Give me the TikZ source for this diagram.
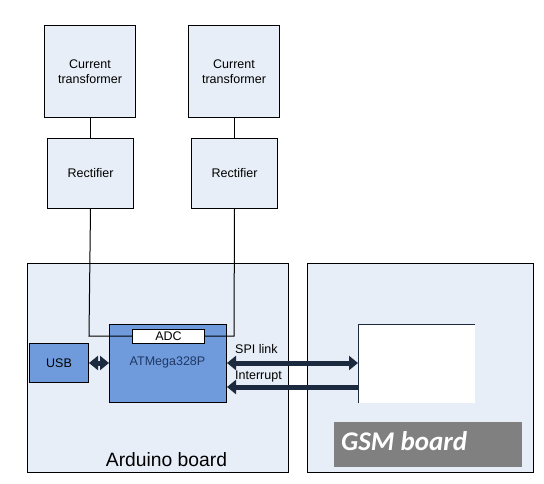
\documentclass[tikz,border=0pt]{standalone}
\usepackage{fontspec}
\setmainfont{Liberation Sans}
\newfontfamily\gsmfont{Carlito}
\usetikzlibrary{arrows.meta}
\definecolor{boxfill}{HTML}{E8EEF7}
\definecolor{chipfill}{HTML}{6F9BDC}
\definecolor{navy}{HTML}{1B2A3F}
\definecolor{chiptext}{HTML}{1F3864}
\definecolor{gsmgray}{HTML}{808080}
\tikzset{
  blk/.style={draw=black, line width=1pt, fill=boxfill, inner sep=0pt, font=\fontsize{12.5}{14.5}\selectfont, align=center},
  wire/.style={draw=black, line width=1pt},
  bus/.style={draw=navy, line width=5pt, -{Triangle[length=9pt,width=14pt]}},
  dbus/.style={draw=navy, line width=5pt, {Triangle[length=9pt,width=14pt]}-{Triangle[length=9pt,width=14pt]}},
  lbl/.style={font=\fontsize{12.5}{14}\selectfont, inner sep=0pt}
}
\begin{document}
\begin{tikzpicture}[x=1pt,y=-1pt]
\useasboundingbox (0,0) rectangle (544,483);
\fill[white] (0,0) rectangle (544,483);
% boards
\node[blk, minimum width=261pt, minimum height=209pt, anchor=north west] (ard) at (27,263) {};
\node[blk, minimum width=226pt, minimum height=209pt, anchor=north west] (gsm) at (307,263) {};
\node[lbl, font=\fontsize{19.3}{22}\selectfont] (ardlbl) at (166.5,460) {Arduino board};
% top chain
\node[blk, minimum width=91pt, minimum height=92pt, anchor=north west] (ct1) at (44,25) {Current\\transformer};
\node[blk, minimum width=91pt, minimum height=92pt, anchor=north west] (ct2) at (188,25) {Current\\transformer};
\node[blk, minimum width=86pt, minimum height=70pt, anchor=north west] (r1) at (47,138) {Rectifier};
\node[blk, minimum width=86pt, minimum height=70pt, anchor=north west] (r2) at (191,138) {Rectifier};
\draw[wire] (ct1.south -| r1.south) -- (r1.north);
\draw[wire] (ct2.south -| r2.south) -- (r2.north);
% chip
\node[draw=black, line width=1pt, fill=chipfill, minimum width=117pt, minimum height=78pt, anchor=north west, inner sep=0pt] (chip) at (109,324) {};
\node[lbl, text=chiptext] (chiplbl) at (167.5,362) {ATMega328P};
\node[draw=black, line width=1pt, fill=white, minimum width=72pt, minimum height=14pt, anchor=north west, inner sep=0pt, font=\fontsize{12.5}{14}\selectfont] (adc) at (132,329) {ADC};
\coordinate (c1) at (89,336);
\coordinate (c2) at (234,336);
\draw[wire] (r1.south) -- (c1) -- (adc.west |- c1);
\draw[wire] (r2.south) -- (c2) -- (adc.east |- c2);
% USB
\node[draw=black, line width=1pt, fill=chipfill, minimum width=59pt, minimum height=39pt, anchor=north west, inner sep=0pt, font=\fontsize{12.5}{14}\selectfont] (usb) at (29,343) {USB};
\draw[dbus] (usb.east |- 0,363) -- (chip.west |- 0,363);
% GSM module
\node[fill=white, minimum width=117pt, minimum height=79pt, anchor=north west, inner sep=0pt] (mod) at (358,324) {};
\draw[navy, line width=1pt] (mod.south west) -- (mod.north west) -- (mod.north east);
\draw[dbus] (chip.east |- 0,363) -- (mod.west |- 0,363);
\draw[bus] (mod.west |- 0,387) -- (chip.east |- 0,387);
\node[lbl, anchor=south west] (spi) at (235,354) {SPI link};
\node[lbl, anchor=south west] (intr) at (235,382) {Interrupt};
% GSM label
\node[fill=gsmgray, minimum width=188pt, minimum height=45pt, anchor=north west, inner sep=0pt] (gsmbox) at (334,422) {};
\node[text=white, font=\gsmfont\bfseries\itshape\fontsize{27}{30}\selectfont, anchor=west, inner sep=0pt] (gsmlbl) at (341,441) {GSM board};
\end{tikzpicture}
\end{document}
